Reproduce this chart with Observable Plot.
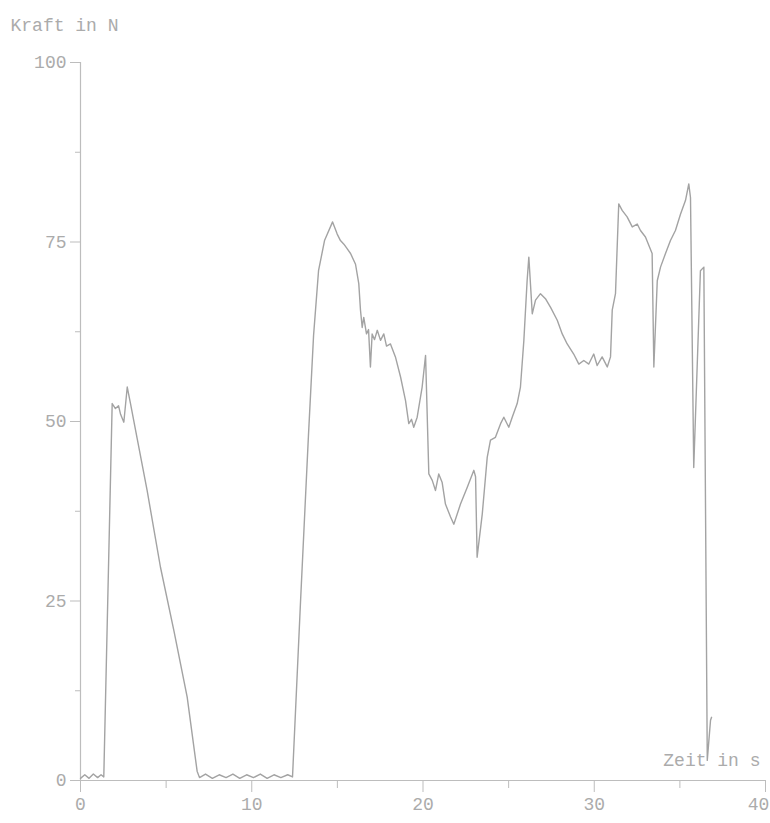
<!DOCTYPE html>
<html>
<head>
<meta charset="utf-8">
<script src="https://cdn.jsdelivr.net/npm/d3@7"></script>
<script src="https://cdn.jsdelivr.net/npm/@observablehq/plot@0.6"></script>
<style>
  html, body { margin: 0; padding: 0; background: #fff; }
  #chart svg { display: block; }
</style>
</head>
<body>
<div id="chart"></div>
<script>
// Messpunkte [Zeit in s, Kraft in N]
const messpunkte = [
  [0,0.3],[0.25,0.8],[0.5,0.3],[0.75,0.9],[1.0,0.4],[1.2,0.8],[1.36,0.5],
  [1.85,52.5],[2.04,51.8],[2.22,52.2],[2.34,51.0],[2.53,49.9],[2.73,54.8],
  [2.92,52.5],[3.31,47.6],[3.89,40.4],[4.67,29.7],[5.45,20.9],[6.23,11.6],[6.81,1.3],
  [6.95,0.4],[7.3,0.9],[7.7,0.3],[8.1,0.8],[8.5,0.4],[8.9,0.9],[9.3,0.3],[9.7,0.8],
  [10.1,0.4],[10.5,0.9],[10.9,0.3],[11.3,0.8],[11.7,0.4],[12.1,0.8],[12.38,0.5],
  [12.85,25],[13.31,48],[13.61,62],[13.90,71],[14.25,75.2],[14.72,77.8],
  [14.99,76.1],[15.18,75.2],[15.38,74.7],[15.59,74.0],[15.77,73.4],[16.06,71.9],
  [16.25,69.2],[16.35,65.5],[16.45,63.1],[16.54,64.5],[16.70,62.2],[16.82,62.8],
  [16.93,57.6],[17.03,62.2],[17.17,61.4],[17.33,62.7],[17.52,61.3],[17.71,62.2],
  [17.87,60.5],[18.10,60.8],[18.39,59.0],[18.69,56.2],[18.98,52.9],[19.17,49.7],
  [19.33,50.3],[19.46,49.2],[19.66,50.6],[19.95,54.8],[20.15,59.2],
  [20.34,42.7],[20.54,41.8],[20.73,40.4],[20.92,42.7],[21.12,41.5],[21.31,38.5],
  [21.61,36.7],[21.80,35.7],[22.19,38.5],[22.58,40.8],[22.97,43.2],[23.07,42.3],
  [23.16,31.1],[23.46,37.1],[23.75,45.0],[23.94,47.4],[24.23,47.8],[24.53,49.7],
  [24.72,50.6],[25.01,49.2],[25.21,50.6],[25.50,52.5],[25.69,54.8],[25.89,61.3],
  [26.08,69.6],[26.18,72.9],
  [26.38,65.0],[26.57,66.9],[26.86,67.8],[27.15,67.1],[27.45,65.9],[27.84,64.1],
  [28.13,62.2],[28.42,60.8],[28.80,59.4],[29.10,58.0],[29.39,58.5],[29.68,58.0],
  [29.97,59.4],[30.17,57.8],[30.46,59.0],[30.76,57.6],[30.95,59.0],[31.05,65.5],
  [31.24,67.8],[31.43,80.3],[31.63,79.4],[31.92,78.5],[32.22,77.1],[32.51,77.5],
  [32.70,76.6],[32.99,75.7],[33.38,73.4],[33.48,57.6],[33.68,69.6],[33.87,71.5],
  [34.16,73.4],[34.45,75.2],[34.74,76.6],[35.04,78.9],[35.33,80.8],[35.52,83.1],
  [35.62,81.2],[35.81,43.6],[36.20,71.0],[36.40,71.5],[36.60,2.8],[36.79,8.4],[36.85,8.8]
];

const xHauptTicks = [0, 10, 20, 30];
const xLetzterTick = [40];
const xNebenTicks = [5, 15, 25, 35];
const yHauptTicks = [0, 25, 50, 75, 100];
const yNebenTicks = [12.5, 37.5, 62.5, 87.5];

const axisColor = "#bdbdbd";
const textColor = "#ababab";

const chart = Plot.plot({
  width: 770,
  height: 823,
  marginLeft: 80,
  marginRight: 5,
  marginTop: 62,
  marginBottom: 43,
  x: {domain: [0, 40], label: null},
  y: {domain: [0, 100], label: null},
  style: {fontFamily: "'Liberation Mono', 'DejaVu Sans Mono', monospace", fontSize: "18px", color: textColor, background: "#fff"},
  marks: [
    Plot.ruleX([0], {stroke: axisColor, strokeWidth: 1.2}),
    Plot.ruleY([0], {stroke: axisColor, strokeWidth: 1.2}),
    Plot.axisY(yHauptTicks, {tickSize: 10, tickPadding: 4, stroke: axisColor, fill: textColor, label: null}),
    Plot.axisY(yNebenTicks, {tickSize: 5, tickFormat: () => "", stroke: axisColor, label: null}),
    Plot.axisX(xHauptTicks, {tickSize: 12, tickPadding: 5, stroke: axisColor, fill: textColor, label: null}),
    Plot.axisX(xLetzterTick, {tickSize: 12, tickFormat: () => "", stroke: axisColor, label: null}),
    Plot.axisX(xLetzterTick, {tickSize: 12, tickPadding: 5, stroke: "none", fill: textColor, dx: -7, label: null}),
    Plot.axisX(xNebenTicks, {tickSize: 8, tickFormat: () => "", stroke: axisColor, label: null}),
    Plot.line(messpunkte, {x: d => d[0], y: d => d[1], stroke: "#a3a3a3", strokeWidth: 1.4}),
    Plot.text(["Kraft in N"], {frameAnchor: "top-left", dx: -70, dy: -44, textAnchor: "start", fill: textColor}),
    Plot.text(["Zeit in s"], {frameAnchor: "bottom-right", dx: -5, dy: -15, textAnchor: "end", fill: textColor})
  ]
});

document.getElementById("chart").appendChild(chart);
</script>
</body>
</html>
